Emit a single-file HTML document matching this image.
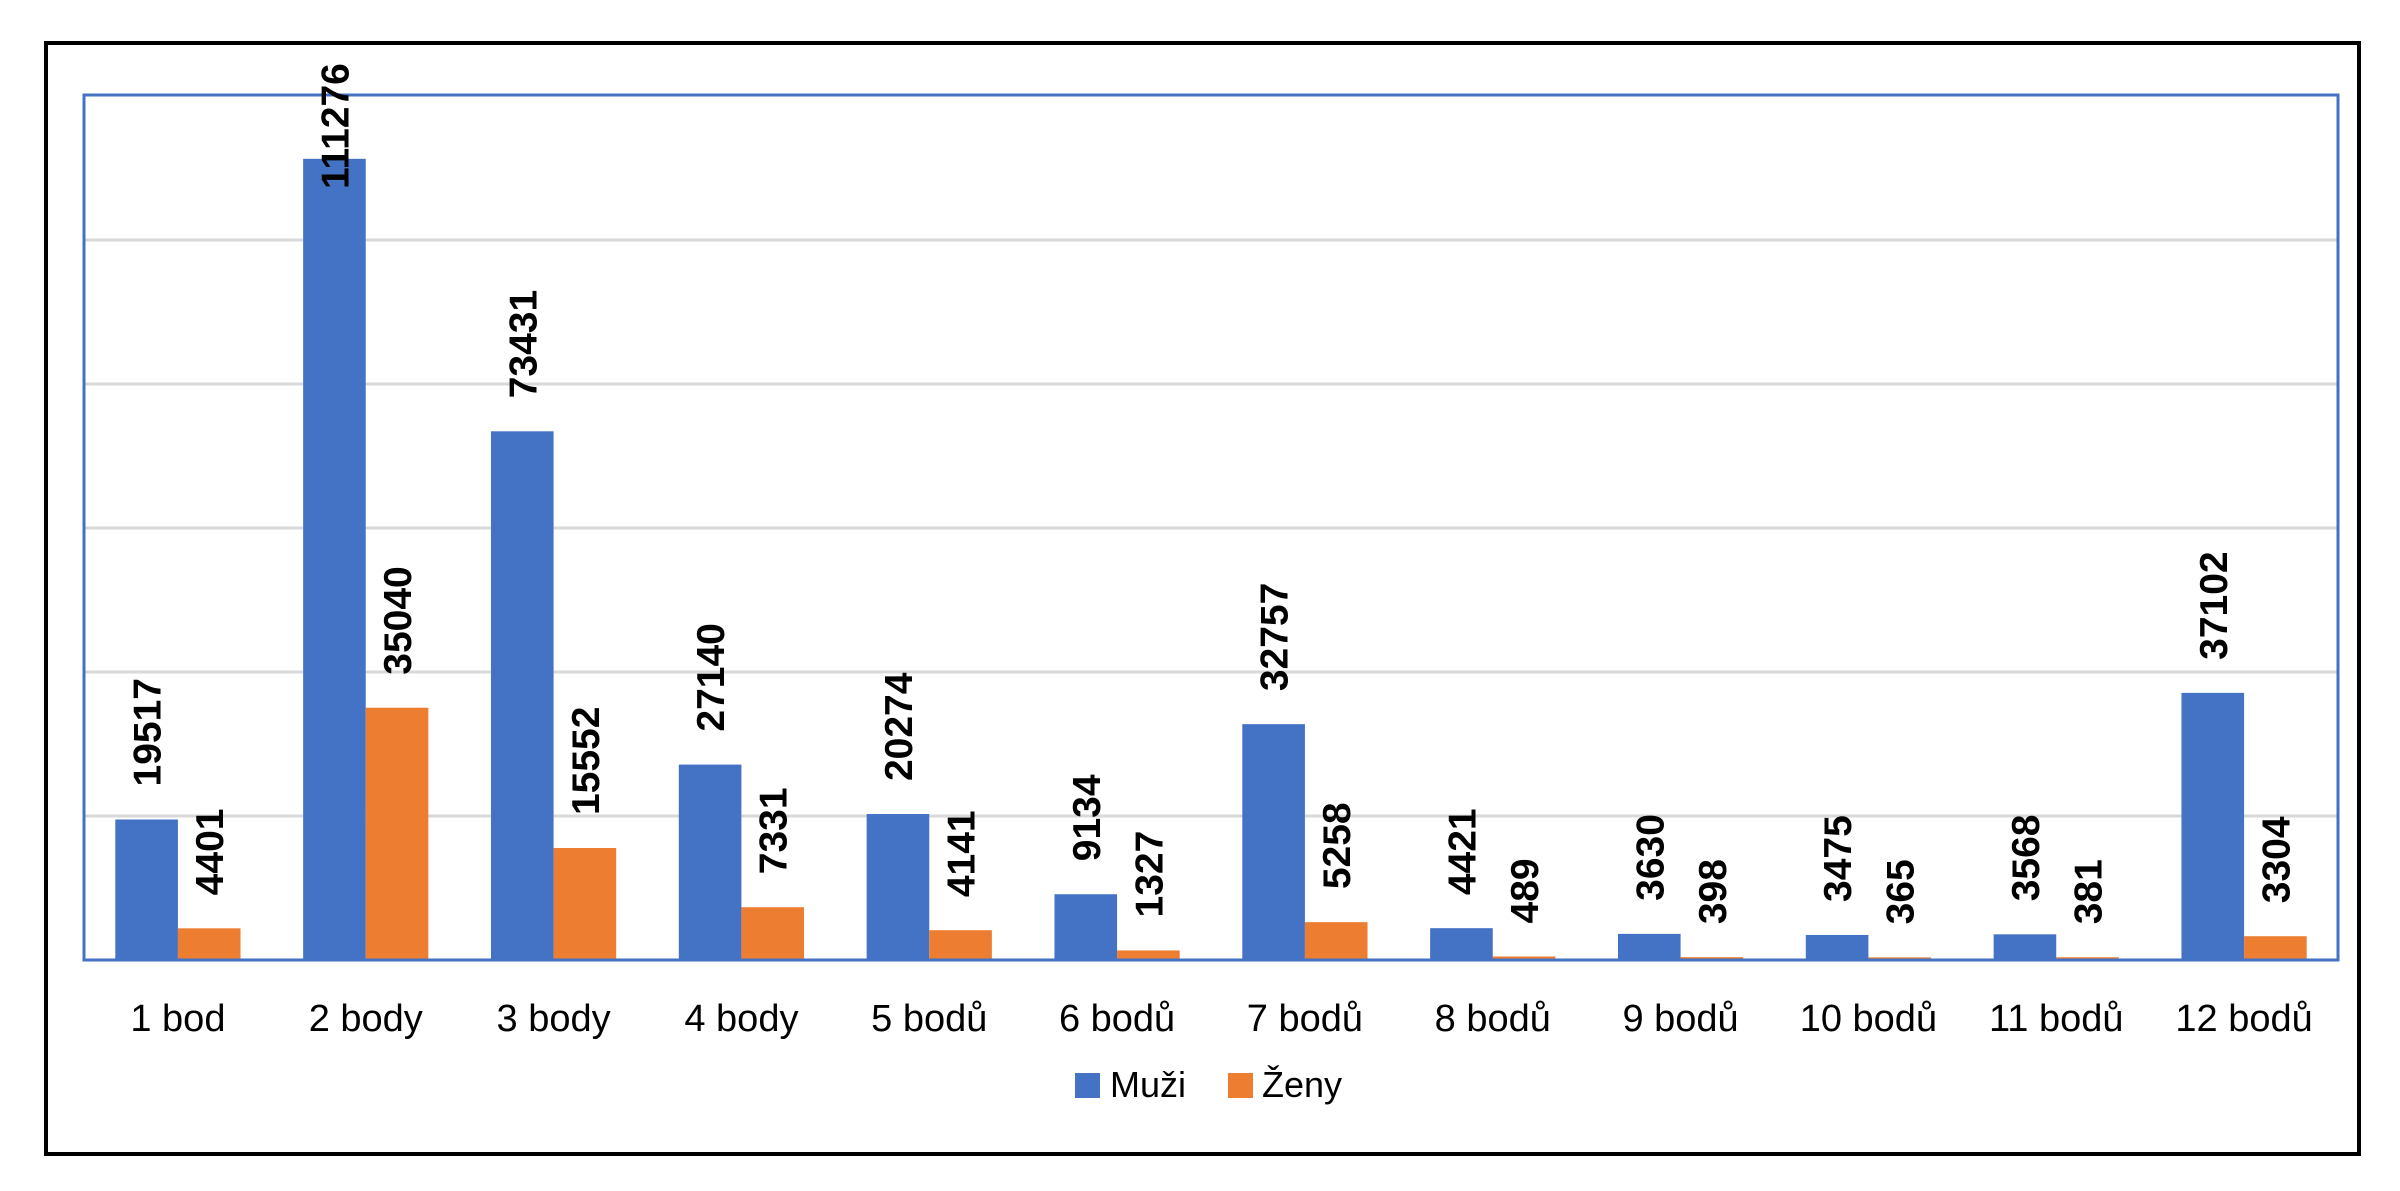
<!DOCTYPE html>
<html><head><meta charset="utf-8"><style>
html,body{margin:0;padding:0;background:#fff;}
svg{display:block;}
</style></head><body>
<svg id="chart" width="2400" height="1191" viewBox="0 0 2400 1191" xmlns="http://www.w3.org/2000/svg">
<rect x="46" y="43" width="2313" height="1111" fill="#fff" stroke="#000" stroke-width="4"/>
<g id="grid"></g>
<g id="bars"></g>
<rect x="84" y="95" width="2254" height="865" fill="none" stroke="#4472C4" stroke-width="3"/>
<g id="labels"></g>
<g id="cats"></g>
<g>
<rect x="1075" y="1073" width="25" height="25" fill="#4472C4"/>
<text x="1110" y="1097" font-family="Liberation Sans, sans-serif" font-size="36" fill="#000">Muži</text>
<rect x="1228" y="1073" width="25" height="25" fill="#ED7D31"/>
<text x="1262" y="1097" font-family="Liberation Sans, sans-serif" font-size="36" fill="#000">Ženy</text>
</g>
</svg>
<script>
const categories = ["1 bod","2 body","3 body","4 body","5 bodů","6 bodů","7 bodů","8 bodů","9 bodů","10 bodů","11 bodů","12 bodů"];
const muzi = [19517,111276,73431,27140,20274,9134,32757,4421,3630,3475,3568,37102];
const zeny = [4401,35040,15552,7331,4141,1327,5258,489,398,365,381,3304];
const yTicks = [0,20000,40000,60000,80000,100000,120000];

const NS = "http://www.w3.org/2000/svg";
const L = 84, R = 2338, T = 96, B = 960, yMax = 120000;
const catW = (R - L) / categories.length;
const barW = catW / 3;
function y(v){ return B - v / yMax * (B - T); }
function xCat(i){ return L + i * catW; }
function mk(tag, attrs, parent){ const e = document.createElementNS(NS, tag); for (const k in attrs) e.setAttribute(k, attrs[k]); parent.appendChild(e); return e; }

const grid = document.getElementById('grid');
yTicks.forEach(t => {
  if (t === 0 || t === yMax) return;
  const ln = mk('line', {x1: L, x2: R, y1: y(t), y2: y(t), stroke: '#d9d9d9', 'stroke-width': 3}, grid);
  
  
});
const axis = mk('line', {x1: L, x2: R, y1: B, y2: B, stroke: '#d0d0d0', 'stroke-width': 3}, grid);



const bars = document.getElementById('bars');
const labels = document.getElementById('labels');
const cats = document.getElementById('cats');
const series = [{vals: muzi, color: '#4472C4', key: 'muzi'}, {vals: zeny, color: '#ED7D31', key: 'zeny'}];

categories.forEach((c, i) => {
  series.forEach((s, si) => {
    const v = s.vals[i];
    const x0 = xCat(i) + barW / 2 + si * barW;
    const r = mk('rect', {x: x0, y: y(v), width: barW, height: B - y(v), fill: s.color}, bars);
    
    
    const str = String(v);
    const len = str.length * 21.5;
    let start = y(v) - 33;
    if (start - len < 60) start = 60 + len;
    const cx = x0 + barW / 2;
    const tx = mk('text', {x: 0, y: 0, transform: 'translate(' + (cx + 14) + ',' + start + ') rotate(-90)', 'font-family': 'Liberation Sans, sans-serif', 'font-size': 39, 'font-weight': 'bold', fill: '#000'}, labels);
    tx.textContent = str;
    
    
  });
  const ct = mk('text', {x: xCat(i) + catW / 2, y: 1031, 'text-anchor': 'middle', 'font-family': 'Liberation Sans, sans-serif', 'font-size': 38, fill: '#000'}, cats);
  ct.textContent = c;
  
  
});
</script>
</body></html>
